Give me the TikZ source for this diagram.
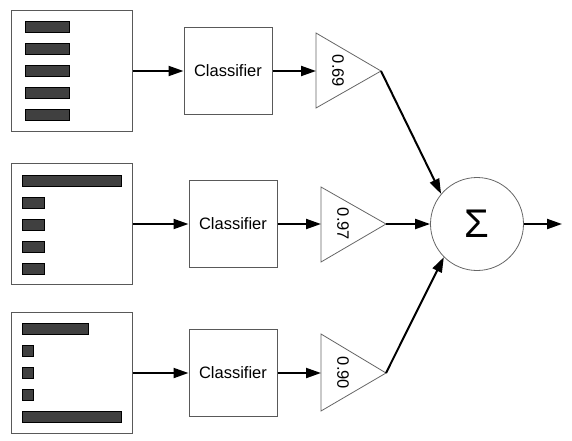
\documentclass[tikz,border=0pt]{standalone}
\usepackage{fontspec}
\setmainfont{Liberation Sans}
\usetikzlibrary{arrows.meta}
\begin{document}
\begin{tikzpicture}[x=1pt,y=-1pt,
  inbox/.style={draw=black!65, line width=1pt, minimum width=121pt, minimum height=121pt, inner sep=0pt},
  bar/.style={fill=black!75, draw=black, line width=0.7pt},
  clbox/.style={draw=black!65, line width=1pt, minimum width=88pt, minimum height=87pt, inner sep=0pt, font=\fontsize{16.5}{19}\selectfont},
  tri/.style={draw=black!60, line width=0.8pt},
  wlabel/.style={rotate=-90, inner sep=0pt, font=\fontsize{16.5}{19}\selectfont},
  sumnode/.style={circle, draw=black!60, line width=0.8pt, minimum size=93pt, inner sep=0pt, font=\fontsize{40}{44}\selectfont},
  arr/.style={-{Triangle[length=15pt,width=10pt]}, line width=2pt}
]
\path[use as bounding box] (0,0) rectangle (572,440);

% input panels
\node[inbox] (in1) at (71.5,71) {};
\node[inbox] (in2) at (71.5,224) {};
\node[inbox] (in3) at (71.5,373) {};

% bars row 1
\draw[bar] (25,21) rectangle (69,32);
\draw[bar] (25,43) rectangle (69,54);
\draw[bar] (25,65) rectangle (69,76);
\draw[bar] (25,87) rectangle (69,98);
\draw[bar] (25,109) rectangle (69,120);
% bars row 2
\draw[bar] (22,175) rectangle (121,186);
\draw[bar] (22,197) rectangle (44,208);
\draw[bar] (22,219) rectangle (44,230);
\draw[bar] (22,241) rectangle (44,252);
\draw[bar] (22,263) rectangle (44,274);
% bars row 3
\draw[bar] (22,323) rectangle (88,334);
\draw[bar] (22,345) rectangle (33,356);
\draw[bar] (22,367) rectangle (33,378);
\draw[bar] (22,389) rectangle (33,400);
\draw[bar] (22,411) rectangle (121,422);

% classifiers
\node[clbox] (cl1) at (228,71) {Classifier};
\node[clbox] (cl2) at (233,224) {Classifier};
\node[clbox] (cl3) at (233,373) {Classifier};

% weight triangles
\draw[tri] (316,33) -- (381,71) -- (316,108) -- cycle;
\draw[tri] (321,187) -- (386,224) -- (321,262) -- cycle;
\draw[tri] (321,334) -- (386,373) -- (321,411) -- cycle;
\coordinate (t1in) at (316,71);
\coordinate (t2in) at (321,224);
\coordinate (t3in) at (321,373);
\coordinate (t1tip) at (381,71);
\coordinate (t2tip) at (386,224);
\coordinate (t3tip) at (386,373);
\node[wlabel] (w1) at (338,71) {0.69};
\node[wlabel] (w2) at (343,224) {0.97};
\node[wlabel] (w3) at (343,373) {0.90};

% sum
\node[sumnode] (sum) at (477,224) {Σ};
\coordinate (out) at (562,224);

% connectors
\draw[arr] (in1) -- (cl1);
\draw[arr] (in2) -- (cl2);
\draw[arr] (in3) -- (cl3);
\draw[arr] (cl1.east) -- (t1in);
\draw[arr] (cl2.east) -- (t2in);
\draw[arr] (cl3.east) -- (t3in);
\draw[arr] (t1tip) -- (sum.140);
\draw[arr] (t2tip) -- (sum);
\draw[arr] (t3tip) -- (sum.225);
\draw[arr] (sum.east) -- (out);
\end{tikzpicture}
\end{document}
